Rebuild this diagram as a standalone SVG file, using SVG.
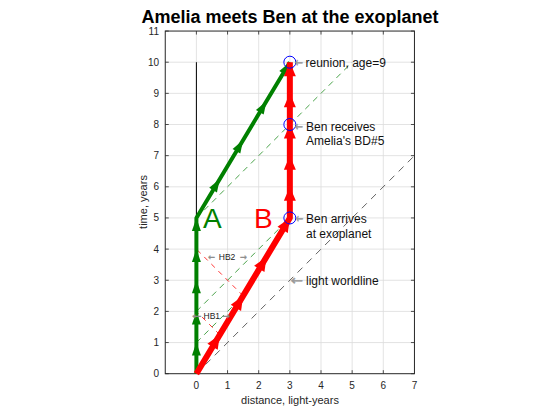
<svg xmlns="http://www.w3.org/2000/svg" width="560" height="420" viewBox="0 0 560 420">
<style>
text{font-family:"Liberation Sans",Arial,Helvetica,sans-serif;}
.grid{stroke:#dcdcdc;stroke-width:0.8;fill:none;}
.box{stroke:#262626;stroke-width:1;fill:none;}
.tick{stroke:#262626;stroke-width:0.8;}
.tl{font-size:10px;fill:#262626;}
.al{font-size:11px;fill:#262626;}
.lbl{font-size:12px;fill:#111;}
.arr{font-family:"DejaVu Sans",sans-serif;font-size:13px;fill:#9a9a9a;stroke:#9a9a9a;stroke-width:0.5;}
.hb{font-size:8.5px;fill:#222;}
.hba{font-family:"DejaVu Sans",sans-serif;font-size:9px;fill:#8c8c8c;stroke:#8c8c8c;stroke-width:0.3;}
.gd{stroke:#1a8a1a;stroke-width:0.8;stroke-dasharray:6 5;fill:none;}
.rd{stroke:#ff0000;stroke-width:0.8;stroke-dasharray:5 5;fill:none;}
.kd{stroke:#505050;stroke-width:0.9;stroke-dasharray:7 6;fill:none;}
.gw{stroke:#008000;stroke-width:4;fill:none;stroke-linejoin:round;}
.rw{stroke:#ff0000;stroke-width:6;fill:none;stroke-linejoin:round;}
.circ{stroke:#0000ff;stroke-width:1;fill:none;}
</style>
<defs>
<path id="hg" d="M0,0 L-13,-4.5 L-13,4.5 Z" fill="#008000"/>
<path id="hr" d="M0,0 L-14,-6 L-14,6 Z" fill="#ff0000"/>
</defs>
<rect width="560" height="420" fill="#fff"/>
<text x="290" y="23" text-anchor="middle" font-size="18" font-weight="bold" fill="#000">Amelia meets Ben at the exoplanet</text>
<g id="axes">
<g class="grid">
<path d="M196.4,31.05V373.7M227.55,31.05V373.7M258.7,31.05V373.7M289.85,31.05V373.7M321,31.05V373.7M352.15,31.05V373.7M383.3,31.05V373.7"/>
<path d="M165.25,342.55H414.45M165.25,311.4H414.45M165.25,280.25H414.45M165.25,249.1H414.45M165.25,217.95H414.45M165.25,186.8H414.45M165.25,155.65H414.45M165.25,124.5H414.45M165.25,93.35H414.45M165.25,62.2H414.45"/>
</g>
<g class="tick">
<path d="M165.25,373.7h3.5M165.25,342.55h3.5M165.25,311.4h3.5M165.25,280.25h3.5M165.25,249.1h3.5M165.25,217.95h3.5M165.25,186.8h3.5M165.25,155.65h3.5M165.25,124.5h3.5M165.25,93.35h3.5M165.25,62.2h3.5M165.25,31.05h3.5"/>
<path d="M414.45,373.7h-3.5M414.45,342.55h-3.5M414.45,311.4h-3.5M414.45,280.25h-3.5M414.45,249.1h-3.5M414.45,217.95h-3.5M414.45,186.8h-3.5M414.45,155.65h-3.5M414.45,124.5h-3.5M414.45,93.35h-3.5M414.45,62.2h-3.5M414.45,31.05h-3.5"/>
<path d="M196.4,373.7v-3.5M227.55,373.7v-3.5M258.7,373.7v-3.5M289.85,373.7v-3.5M321,373.7v-3.5M352.15,373.7v-3.5M383.3,373.7v-3.5"/>
<path d="M196.4,31.05v3.5M227.55,31.05v3.5M258.7,31.05v3.5M289.85,31.05v3.5M321,31.05v3.5M352.15,31.05v3.5M383.3,31.05v3.5"/>
</g>
<rect class="box" x="165.25" y="31.05" width="249.2" height="342.65"/>
<g class="tl" text-anchor="end">
<text x="159" y="377.2">0</text><text x="159" y="346">1</text><text x="159" y="314.9">2</text><text x="159" y="283.7">3</text><text x="159" y="252.6">4</text><text x="159" y="221.4">5</text><text x="159" y="190.3">6</text><text x="159" y="159.1">7</text><text x="159" y="128">8</text><text x="159" y="96.8">9</text><text x="159" y="65.7">10</text><text x="159" y="34.8">11</text>
</g>
<g class="tl" text-anchor="middle">
<text x="196.4" y="388.5">0</text><text x="227.55" y="388.5">1</text><text x="258.7" y="388.5">2</text><text x="289.85" y="388.5">3</text><text x="321" y="388.5">4</text><text x="352.15" y="388.5">5</text><text x="383.3" y="388.5">6</text><text x="414.45" y="388.5">7</text>
</g>
<text class="al" x="290" y="404" text-anchor="middle">distance, light-years</text>
<text class="al" transform="translate(147,202) rotate(-90)" text-anchor="middle">time, years</text>
</g>
<g id="connectors">
<path class="kd" d="M196.4,373.7L414.45,155.65"/>
<path class="gd" d="M196.4,342.55L243.13,295.83"/>
<path class="gd" d="M196.4,311.4L289.85,217.95"/>
<path class="gd" d="M196.4,217.95L352.15,62.2"/>
<path class="rd" d="M219.76,334.76L196.4,311.4"/>
<path class="rd" d="M243.13,295.83L196.4,249.1"/>
<path d="M196.4,217.95V62.2" stroke="#000" stroke-width="1"/>
</g>
<g id="worldline-A">
<path class="gw" d="M196.4,373.7V217.95L289.85,62.2"/>
<use href="#hg" transform="translate(196.4,342.55) rotate(-90)"/>
<use href="#hg" transform="translate(196.4,311.4) rotate(-90)"/>
<use href="#hg" transform="translate(196.4,280.25) rotate(-90)"/>
<use href="#hg" transform="translate(196.4,249.1) rotate(-90)"/>
<use href="#hg" transform="translate(196.4,217.95) rotate(-90)"/>
<use href="#hg" transform="translate(219.76,179.01) rotate(-59.04)"/>
<use href="#hg" transform="translate(243.13,140.08) rotate(-59.04)"/>
<use href="#hg" transform="translate(266.49,101.14) rotate(-59.04)"/>
<use href="#hg" transform="translate(289.85,62.2) rotate(-59.04)"/>
</g>
<g id="worldline-B">
<path class="rw" d="M196.4,373.7L289.85,217.95V62.2"/>
<use href="#hr" transform="translate(219.76,334.76) rotate(-59.04)"/>
<use href="#hr" transform="translate(243.13,295.83) rotate(-59.04)"/>
<use href="#hr" transform="translate(266.49,256.89) rotate(-59.04)"/>
<use href="#hr" transform="translate(289.85,217.95) rotate(-59.04)"/>
<use href="#hr" transform="translate(289.85,186.8) rotate(-90)"/>
<use href="#hr" transform="translate(289.85,155.65) rotate(-90)"/>
<use href="#hr" transform="translate(289.85,124.5) rotate(-90)"/>
<use href="#hr" transform="translate(289.85,93.35) rotate(-90)"/>
<use href="#hr" transform="translate(289.85,62.2) rotate(-90)"/>
</g>
<g id="events">
<circle class="circ" cx="289.85" cy="62.2" r="6"/>
<circle class="circ" cx="289.85" cy="124.5" r="6"/>
<circle class="circ" cx="289.85" cy="217.95" r="6"/>
</g>
<g id="label-A"><text x="203" y="228" font-size="28" fill="#008000">A</text></g>
<g id="label-B"><text x="254" y="228" font-size="28" fill="#ff0000">B</text></g>
<g id="label-reunion">
<text class="arr" x="295" y="67.3" textLength="8" lengthAdjust="spacingAndGlyphs">←</text>
<text class="lbl" x="305.5" y="67.3">reunion, age=9</text>
</g>
<g id="label-receives">
<text class="arr" x="295" y="130.5" textLength="8" lengthAdjust="spacingAndGlyphs">←</text>
<text class="lbl" x="306" y="130.5">Ben receives</text>
<text class="lbl" x="306" y="145">Amelia's BD#5</text>
</g>
<g id="label-arrives">
<text class="arr" x="296" y="223.3" textLength="7.3" lengthAdjust="spacingAndGlyphs">←</text>
<text class="lbl" x="306" y="223.3">Ben arrives</text>
<text class="lbl" x="306" y="238">at exoplanet</text>
</g>
<g id="label-light">
<text class="arr" x="290.7" y="284.5" textLength="12.3" lengthAdjust="spacingAndGlyphs">←</text>
<text class="lbl" x="306" y="285">light worldline</text>
</g>
<g id="label-HB2">
<text class="hba" x="208" y="260" textLength="7" lengthAdjust="spacingAndGlyphs">←</text>
<text class="hb" x="218.8" y="260">HB2</text>
<text class="hba" x="240" y="260" textLength="7" lengthAdjust="spacingAndGlyphs">→</text>
</g>
<g id="label-HB1">
<text class="hba" x="192" y="319" textLength="9.5" lengthAdjust="spacingAndGlyphs">←</text>
<text class="hb" x="203.5" y="319">HB1</text>
<text class="hba" x="222.5" y="319" textLength="7.5" lengthAdjust="spacingAndGlyphs">→</text>
</g>
</svg>
